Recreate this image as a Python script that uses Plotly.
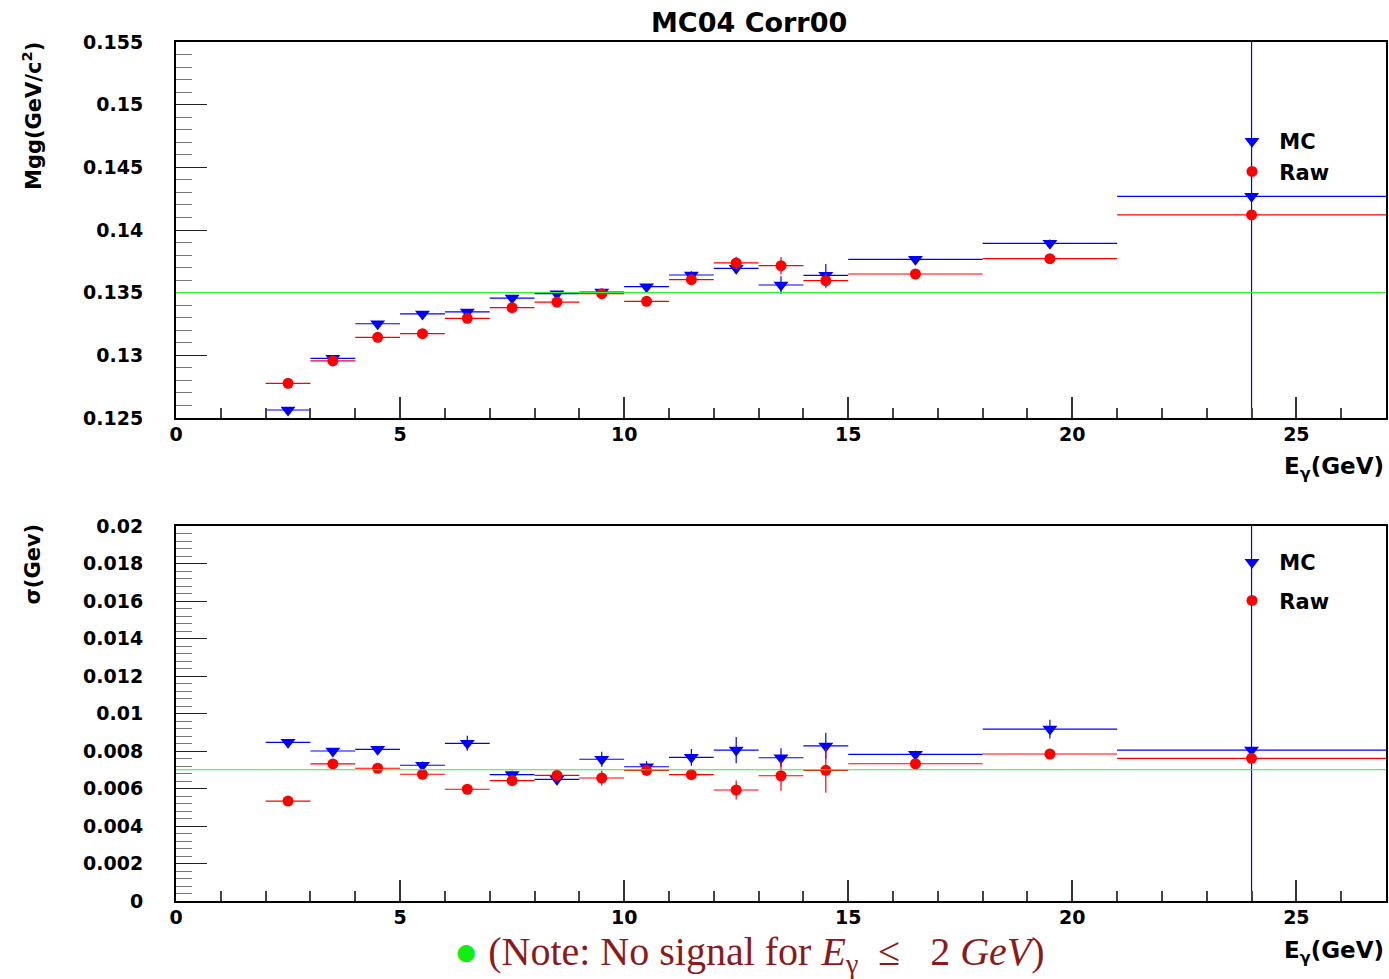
import plotly.graph_objects as go

# Photon-energy bin edges (GeV)
BIN_EDGES = [2, 3, 4, 5, 6, 7, 8, 9, 10, 11, 12, 13, 14, 15, 18, 21, 27]

# Fitted pi0 mass per bin (GeV/c^2)
MASS_MC = [0.12564, 0.12976, 0.13252, 0.13330, 0.13346, 0.13457, 0.13492, 0.13505,
           0.13548, 0.13641, 0.13694, 0.13561, 0.13638, 0.13766, 0.13894, 0.14269]
MASS_MC_ERR = [0.0002, 0.0002, 0.0002, 0.0002, 0.0002, 0.0002, 0.0002, 0.0002,
               0.0002, 0.0003, 0.00045, 0.0007, 0.0009, 0.0002, 0.0003, 0.05]
MASS_RAW = [0.12777, 0.12955, 0.13144, 0.13173, 0.13295, 0.13380, 0.13425, 0.13492,
            0.13431, 0.13604, 0.13737, 0.13715, 0.13596, 0.13649, 0.13771, 0.14120]
MASS_RAW_ERR = [0.0003, 0.0002, 0.0002, 0.0002, 0.0002, 0.0002, 0.0002, 0.0003,
                0.0003, 0.0004, 0.0005, 0.0007, 0.0006, 0.0002, 0.0002, 0.0003]

# Fitted peak width per bin (GeV)
SIGMA_MC = [0.00846, 0.00800, 0.00809, 0.00724, 0.00841, 0.00674, 0.00649, 0.00756,
            0.00716, 0.00766, 0.00805, 0.00764, 0.00827, 0.00782, 0.00917, 0.00805]
SIGMA_MC_ERR = [0.0001, 0.0001, 0.0001, 0.0002, 0.0004, 0.0002, 0.0003, 0.0004,
                0.0003, 0.00045, 0.0007, 0.0005, 0.0007, 0.0002, 0.0005, 0.05]
SIGMA_RAW = [0.00533, 0.00731, 0.00708, 0.00676, 0.00596, 0.00642, 0.00670, 0.00656,
             0.00697, 0.00674, 0.00592, 0.00668, 0.00697, 0.00732, 0.00784, 0.00761]
SIGMA_RAW_ERR = [0.0002, 0.0002, 0.0002, 0.0002, 0.0001, 0.0003, 0.0003, 0.0004,
                 0.0003, 0.0003, 0.0005, 0.0008, 0.0012, 0.0002, 0.0002, 0.0002]

# Reference levels
PI0_MASS = 0.135
SIGMA_REF = 0.007

X_RANGE = [0, 27]
MASS_RANGE = [0.125, 0.155]
SIGMA_RANGE = [0, 0.02]

centers = [(a + b) / 2 for a, b in zip(BIN_EDGES[:-1], BIN_EDGES[1:])]
half_widths = [(b - a) / 2 for a, b in zip(BIN_EDGES[:-1], BIN_EDGES[1:])]

W, H = 1389, 979
BLUE = "#0000ff"
RED = "#ff0000"
GREEN = "#33ee33"
FONT = "DejaVu Sans"
NBSP = "\u00a0"


def px_x(p):
    return p / W


def px_y(p):
    return 1 - p / H


def points(x, y, err, color, symbol, size, name, xa, ya, legend):
    return go.Scatter(
        x=x, y=y, mode="markers", name=NBSP + name,
        xaxis=xa, yaxis=ya, legend=legend,
        marker=dict(symbol=symbol, size=size, color=color, line=dict(width=0)),
        error_y=dict(type="data", array=err, color=color, thickness=1.2, width=0),
        error_x=dict(type="data", array=half_widths, color=color, thickness=1.2, width=0),
    )


fig = go.Figure()
# upper panel: mass
fig.add_trace(points(centers, MASS_MC, MASS_MC_ERR, BLUE, "triangle-down", 13, "MC", "x", "y", "legend"))
fig.add_trace(points(centers, MASS_RAW, MASS_RAW_ERR, RED, "circle", 11, "Raw", "x", "y", "legend"))
# lower panel: width
fig.add_trace(points(centers, SIGMA_MC, SIGMA_MC_ERR, BLUE, "triangle-down", 13, "MC", "x2", "y2", "legend2"))
fig.add_trace(points(centers, SIGMA_RAW, SIGMA_RAW_ERR, RED, "circle", 11, "Raw", "x2", "y2", "legend2"))
fig.data[2].legendgroup = "a"
fig.data[3].legendgroup = "b"

x_dom = [px_x(176), px_x(1386)]
tick_font = dict(family=FONT, size=19, color="black", weight="bold")

xaxis_common = dict(
    range=X_RANGE, domain=x_dom, showgrid=False, zeroline=False, automargin=False,
    showline=True, linecolor="black", linewidth=2, mirror=True,
    ticks="inside", ticklen=21, tickwidth=1.5, tickcolor="#333333",
    tick0=0, dtick=5, tickfont=tick_font, ticklabelstandoff=-2,
    minor=dict(ticks="inside", ticklen=10, tickwidth=1.5, tickcolor="#444444", dtick=1, showgrid=False),
)
yaxis_common = dict(
    showgrid=False, zeroline=False, automargin=False,
    showline=True, linecolor="black", linewidth=2, mirror=True,
    ticks="inside", ticklen=31, tickwidth=1.2, tickcolor="#222222",
    tickfont=tick_font, ticklabelstandoff=27,
)
legend_font = dict(family=FONT, size=21, color="black", weight="bold")

fig.update_layout(
    width=W, height=H, margin=dict(l=0, r=0, t=0, b=0, pad=0, autoexpand=False),
    paper_bgcolor="white", plot_bgcolor="white",
    xaxis=dict(**xaxis_common, anchor="y"),
    yaxis=dict(**yaxis_common, range=MASS_RANGE, domain=[px_y(418), px_y(42)],
               tick0=0.125, dtick=0.005, tickformat="~g", anchor="x",
               minor=dict(ticks="inside", ticklen=16, tickwidth=1.2, tickcolor="#777777",
                          dtick=0.001, showgrid=False)),
    xaxis2=dict(**xaxis_common, anchor="y2"),
    yaxis2=dict(**yaxis_common, range=SIGMA_RANGE, domain=[px_y(901), px_y(526)],
                tick0=0, dtick=0.002, tickformat="~g", anchor="x2",
                minor=dict(ticks="inside", ticklen=16, tickwidth=1.2, tickcolor="#777777",
                           dtick=0.0004, showgrid=False)),
    legend=dict(x=px_x(1232), y=px_y(121), xanchor="left", yanchor="top",
                bgcolor="rgba(0,0,0,0)", borderwidth=0, font=legend_font,
                itemwidth=30, tracegroupgap=0),
    legend2=dict(x=px_x(1232), y=px_y(542), xanchor="left", yanchor="top",
                 bgcolor="rgba(0,0,0,0)", borderwidth=0, font=legend_font,
                 itemwidth=30, tracegroupgap=8),
    showlegend=True,
)

# reference lines
fig.add_shape(type="line", xref="x domain", yref="y", x0=0, x1=1, y0=PI0_MASS, y1=PI0_MASS,
              line=dict(color=GREEN, width=1.2), layer="above")
fig.add_shape(type="line", xref="x2 domain", yref="y2", x0=0, x1=1, y0=SIGMA_REF, y1=SIGMA_REF,
              line=dict(color=GREEN, width=1.2), layer="above")

label_font = dict(family=FONT, size=23, color="black", weight="bold")
annotations = [
    dict(text="MC04 Corr00", x=px_x(749), y=px_y(22), font=dict(family=FONT, size=27, color="black", weight="bold")),
    dict(text="E<sub>γ</sub>(GeV)", x=px_x(1386), y=px_y(468), xanchor="right", font=label_font),
    dict(text="E<sub>γ</sub>(GeV)", x=px_x(1386), y=px_y(952), xanchor="right", font=label_font),
    dict(text="Mgg(GeV/c<sup>2</sup>)", x=px_x(32), y=px_y(40), yanchor="top", textangle=-90,
         font=dict(family=FONT, size=21, color="black", weight="bold")),
    dict(text="σ(Gev)", x=px_x(32), y=px_y(522), yanchor="top", textangle=-90,
         font=dict(family=FONT, size=21, color="black", weight="bold")),
    dict(text="<span style='color:#11ee11'>●</span> (Note: No signal for <i>E</i><sub>γ</sub>"
              + NBSP * 2 + "≤" + NBSP * 3 + "2" + NBSP + "<i>GeV</i>)",
         x=px_x(749), y=px_y(954),
         font=dict(family="Liberation Serif", size=40, color="#8b1a1a")),
]
for a in annotations:
    a.setdefault("xanchor", "center")
    a.setdefault("yanchor", "middle")
    fig.add_annotation(xref="paper", yref="paper", showarrow=False, **a)

fig.write_html("out.html", post_script="document.body.style.margin='0';document.body.style.overflow='hidden';")
